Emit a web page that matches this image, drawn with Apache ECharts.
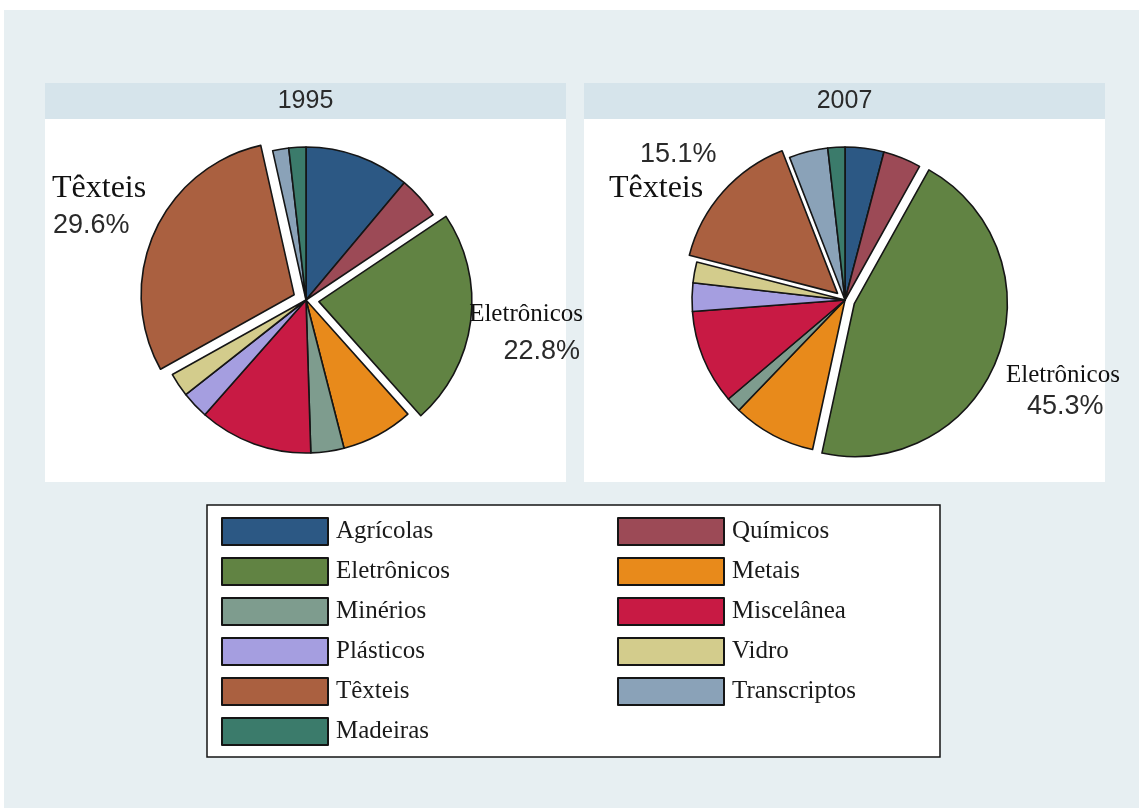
<!DOCTYPE html>
<html>
<head>
<meta charset="utf-8">
<script src="https://cdn.jsdelivr.net/npm/echarts@6/dist/echarts.min.js"></script>
<style>
  html, body { margin: 0; padding: 0; background: #ffffff; }
  #chart { width: 1139px; height: 808px; }
</style>
</head>
<body>
<div id="chart"></div>
<script>
// Export shares by sector (%), clockwise from 12 o'clock
const sectors = ['Agrícolas', 'Químicos', 'Eletrônicos', 'Metais', 'Minérios', 'Miscelânea',
                 'Plásticos', 'Vidro', 'Têxteis', 'Transcriptos', 'Madeiras'];
const share1995 = [11.1, 4.5, 22.8, 7.6, 3.5, 12.0, 2.9, 2.5, 29.6, 1.7, 1.8];
const share2007 = [4.1, 4.0, 45.3, 8.8, 1.6, 10.0, 3.0, 2.2, 15.1, 4.1, 1.8];
const years = ['1995', '2007'];
// slices pulled out of each pie and annotated
const highlighted = ['Eletrônicos', 'Têxteis'];

const palette = ['#2c5884', '#9c4a56', '#618343', '#e88a1b', '#7e9c8e', '#c81a44',
                 '#a59ee0', '#d3cc8c', '#aa6040', '#8aa2b8', '#3b7b6b'];

const legendLeftCol = sectors.filter((_, i) => i % 2 === 0);
const legendRightCol = sectors.filter((_, i) => i % 2 === 1);

const serif = '"Liberation Serif", "DejaVu Serif", serif';
const sans = '"Liberation Sans", Arial, sans-serif';

function buildData(values) {
  return sectors.map((name, i) => ({
    name: name,
    value: values[i],
    selected: highlighted.indexOf(name) >= 0,
    itemStyle: { color: palette[i] }
  }));
}

function pctText(values, name) {
  return values[sectors.indexOf(name)].toFixed(1) + '%';
}

const centers = [[306, 300], [845, 300]];
const allShares = [share1995, share2007];

const series = years.map((y, k) => ({
  type: 'pie',
  name: y,
  center: centers[k],
  radius: 153,
  startAngle: 90,
  clockwise: true,
  selectedMode: 'multiple',
  selectedOffset: k === 0 ? 13 : 10,
  silent: true,
  animation: false,
  itemStyle: { borderColor: '#151515', borderWidth: 1.6 },
  select: { itemStyle: { borderColor: '#151515', borderWidth: 1.6 } },
  emphasis: { disabled: true },
  label: { show: false },
  labelLine: { show: false },
  data: buildData(allShares[k])
}));

const panelX = [45, 584];
const panelW = 521;

const graphics = [
  { type: 'rect', z: -20, shape: { x: 4, y: 10, width: 1135, height: 798 }, style: { fill: '#e7eff2' }, silent: true }
];
panelX.forEach((x, i) => {
  graphics.push({ type: 'rect', z: -15, shape: { x: x, y: 83, width: panelW, height: 36 }, style: { fill: '#d6e4eb' }, silent: true });
  graphics.push({ type: 'rect', z: -15, shape: { x: x, y: 119, width: panelW, height: 363 }, style: { fill: '#ffffff' }, silent: true });
  graphics.push({ type: 'text', z: 5, x: x + panelW / 2, y: 101,
    style: { text: years[i], font: '25px ' + sans, fill: '#2a2a2a', textAlign: 'center', textVerticalAlign: 'middle' }, silent: true });
});

// slice annotations: sector name (serif) and share (sans)
function note(text, x, y, align, isPct) {
  graphics.push({
    type: 'text', z: 10, x: x, y: y, silent: true,
    style: {
      text: text,
      font: isPct ? '27px ' + sans : (text === 'Têxteis' ? '32px ' : '25px ') + serif,
      fill: isPct ? '#2a2a2a' : '#111111',
      textAlign: align,
      textVerticalAlign: 'middle'
    }
  });
}
note('Têxteis', 52, 189, 'left', false);
note(pctText(share1995, 'Têxteis'), 53, 226, 'left', true);
note('Eletrônicos', 583, 314, 'right', false);
note(pctText(share1995, 'Eletrônicos'), 580, 352, 'right', true);
note(pctText(share2007, 'Têxteis'), 640, 155, 'left', true);
note('Têxteis', 609, 189, 'left', false);
note('Eletrônicos', 1006, 375, 'left', false);
note(pctText(share2007, 'Eletrônicos'), 1027, 407, 'left', true);

graphics.push({ type: 'rect', z: -10, shape: { x: 207, y: 505, width: 733, height: 252 },
  style: { fill: '#ffffff', stroke: '#151515', lineWidth: 1.5 }, silent: true });

const legendCommon = {
  orient: 'vertical',
  top: 512,
  padding: 5,
  icon: 'rect',
  itemWidth: 106,
  itemHeight: 27,
  itemGap: 11,
  selectedMode: false,
  textStyle: { fontFamily: serif, fontSize: 25, lineHeight: 27, color: '#1a1a1a', padding: [0, 0, 0, 3] }
};

const option = {
  animation: false,
  backgroundColor: '#ffffff',
  graphic: graphics,
  legend: [
    Object.assign({}, legendCommon, { left: 216, data: legendLeftCol }),
    Object.assign({}, legendCommon, { left: 612, data: legendRightCol })
  ],
  series: series
};

const chart = echarts.init(document.getElementById('chart'), null, { renderer: 'canvas' });
chart.setOption(option);
</script>
</body>
</html>
